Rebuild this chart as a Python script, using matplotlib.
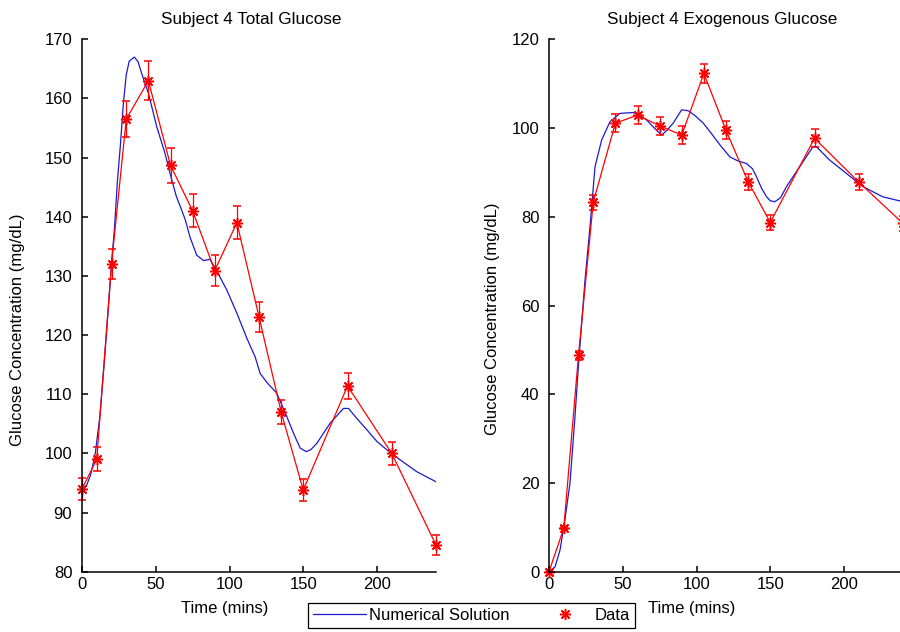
import matplotlib
matplotlib.use('Agg')
import matplotlib.pyplot as plt
from matplotlib.lines import Line2D

plt.rcParams['font.family'] = ['Liberation Sans', 'DejaVu Sans']
plt.rcParams['font.size'] = 12

# Measured data (sampling times in minutes)
t_data = [0, 10, 20, 30, 45, 60, 75, 90, 105, 120, 135, 150, 180, 210, 240]
total = [94, 99, 132, 156.5, 163, 148.7, 141, 130.9, 139, 123.1, 107, 93.8, 111.4, 100, 84.5]
total_err = [1.9, 2.0, 2.6, 3.1, 3.3, 3.0, 2.8, 2.6, 2.8, 2.5, 2.1, 1.9, 2.2, 2.0, 1.7]
exo = [0, 9.8, 48.8, 83.3, 101.1, 102.9, 100.5, 98.4, 112.3, 99.5, 87.9, 78.7, 97.7, 87.8, 78.5]
exo_err = [0, 0.2, 1.0, 1.7, 2.0, 2.1, 2.0, 2.0, 2.2, 2.0, 1.8, 1.6, 2.0, 1.8, 1.6]

# Numerical solution
t_sim_total = [0, 3, 6, 9, 12, 15, 18, 20, 22, 24, 26, 28, 30, 32, 35.5, 38, 40.5, 45,
               50.7, 56.3, 59.7, 64, 67, 70, 73.3, 77.8, 82.3, 86.8, 91.4, 98.2, 105,
               111.7, 117.4, 120.8, 126, 132, 138.9, 143.4, 147.9, 152, 155, 159.2,
               168.2, 177.3, 180.7, 186, 193.1, 200, 206.7, 215.7, 227, 240]
sim_total = [93.5, 94.5, 96.5, 100, 106, 115, 125, 132, 138, 146, 152, 159, 164, 166.3,
             167.0, 166.2, 164.2, 160.9, 155.2, 150.7, 147.3, 143.4, 141.5, 139.5, 136.5,
             133.5, 132.6, 132.8, 130.8, 127.6, 123.7, 119.5, 116.3, 113.5, 111.8, 110.2,
             106.2, 103.4, 100.9, 100.3, 100.6, 101.7, 105.1, 107.6, 107.6, 106.0, 104.0,
             102.0, 100.6, 98.9, 96.9, 95.2]

t_sim_exo = [0, 4.1, 7.5, 10.8, 14.2, 17.6, 19.9, 24.4, 27.8, 31.2, 35.7, 41.3, 48.1,
             57.1, 62, 66.2, 72, 76.3, 80, 84.2, 89.9, 94.4, 99, 104.6, 110, 115.9, 122.6,
             128, 133.9, 138, 140.7, 144, 147.5, 150, 153.1, 157, 161, 170, 179, 181,
             190.2, 201.5, 212.8, 226.3, 240]
sim_exo = [0, 1.1, 4.9, 11.7, 19.9, 34.9, 46.2, 65.7, 77.8, 91.3, 97.3, 101.4, 103.3,
           103.5, 102.8, 101.8, 99.8, 98.4, 99.5, 101.1, 104.1, 103.9, 102.8, 101.1, 98.8,
           96.2, 93.5, 92.6, 92.0, 90.8, 89.0, 86.5, 84.5, 83.6, 83.4, 84.3, 86.8, 91.3,
           95.8, 95.9, 92.8, 89.8, 86.8, 84.5, 83.4]

blue = '#1a1ad0'
red = '#ff0000'
star = (8, 2, 0)

fig = plt.figure(figsize=(9, 6.32), dpi=100)
ax1 = fig.add_axes([82 / 900, 60.3 / 632, 354 / 900, 532.4 / 632])
ax2 = fig.add_axes([549 / 900, 60.3 / 632, 354 / 900, 532.4 / 632])

panels = [
    (ax1, t_sim_total, sim_total, total, total_err, 'Subject 4 Total Glucose',
     (80, 170), range(80, 171, 10), 0.479, -0.182, 0.454),
    (ax2, t_sim_exo, sim_exo, exo, exo_err, 'Subject 4 Exogenous Glucose',
     (0, 120), range(0, 121, 20), 0.49, -0.16, 0.475),
]

for ax, ts, ys, yd, ye, title, ylim, yticks, tx, lx, ly in panels:
    ax.plot(ts, ys, color=blue, lw=0.9)
    ax.errorbar(t_data, yd, yerr=ye, color=red, lw=0.9, elinewidth=0.9,
                marker=star, ms=8, mew=1.1, capsize=2.8, capthick=0.9, clip_on=False)
    ax.set_xlim(0, 240)
    ax.set_ylim(*ylim)
    ax.set_xticks([0, 50, 100, 150, 200])
    ax.set_yticks(list(yticks))
    for side in ['top', 'right']:
        ax.spines[side].set_visible(False)
    for side in ['left', 'bottom']:
        ax.spines[side].set_linewidth(1.1)
    ax.tick_params(direction='in', length=4, width=1.1, labelsize=12)
    ax.tick_params(axis='y', pad=7)
    ax.tick_params(axis='x', pad=4)
    ax.text(tx, 1.037, title, transform=ax.transAxes, ha='center', va='center', fontsize=12.3)
    ax.set_xlabel('Time (mins)', fontsize=12, va='center')
    ax.xaxis.set_label_coords(0.404, -0.070)
    ax.set_ylabel('Glucose Concentration (mg/dL)', fontsize=12, va='center')
    ax.yaxis.set_label_coords(lx, ly)

handles = [Line2D([], [], color=blue, lw=0.9),
           Line2D([], [], color=red, marker=star, ms=8, mew=1.1, ls='none')]
leg = fig.legend(handles, ['Numerical Solution', 'Data'], ncol=2, loc='center',
                 bbox_to_anchor=(308 / 900, 3 / 632, 327 / 900, 27 / 632), mode='expand',
                 fancybox=False, edgecolor='black', framealpha=1, handlelength=3.2,
                 handletextpad=0.15, borderpad=0.3, borderaxespad=0, fontsize=12)
leg.get_frame().set_linewidth(0.9)

fig.savefig('out.png', dpi=100)
